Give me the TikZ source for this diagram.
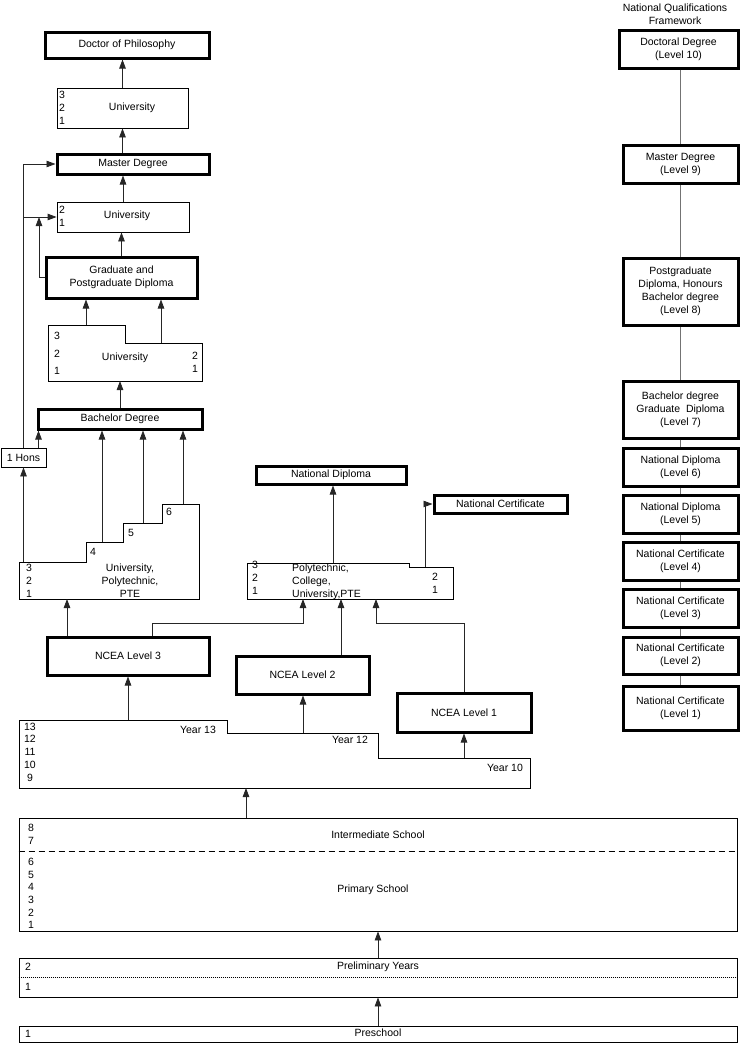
\documentclass[tikz,border=0pt]{standalone}
\usepackage{fontspec}
\setmainfont{Liberation Sans}
\usetikzlibrary{arrows.meta}
\begin{document}
\begin{tikzpicture}[x=1pt,y=-1pt,
  every node/.style={font=\fontsize{10.5}{13}\selectfont},
  thk/.style={draw, line width=3pt, inner sep=0pt, align=center},
  thn/.style={draw, line width=0.8pt, inner sep=0pt, align=center},
  txt/.style={inner sep=0pt, align=center},
  num/.style={inner sep=0pt, align=left},
  arr/.style={draw=black!85, line width=0.8pt, -{Triangle[length=9pt,width=6.5pt]}},
  ln/.style={draw=black!85, line width=0.8pt},
  gln/.style={draw=black!55, line width=0.9pt},
  outl/.style={draw, line width=0.8pt},
]
\useasboundingbox (0,0) rectangle (743,1044);

% ---------------- left column ----------------
\node[thk, minimum width=164pt, minimum height=26pt] (phd) at (127,45) {Doctor of Philosophy};
\node[thn, minimum width=131pt, minimum height=40pt] (uni3) at (122.5,108) {};
\node[txt] (uni3t) at (132,108) {University};
\node[num, anchor=west] (uni3n) at (59,107.5) {3\\2\\1};

\node[thk, minimum width=152pt, minimum height=20pt] (master) at (133,164) {Master Degree};
\node[thn, minimum width=132pt, minimum height=30pt] (uni2) at (123,217) {};
\node[txt] (uni2t) at (127,216) {University};
\node[num, anchor=west] (uni2n) at (59,216.5) {2\\1};

\node[thk, minimum width=151pt, minimum height=41pt] (grad) at (121.5,277.5) {Graduate and\\Postgraduate Diploma};

% stepped university box
\draw[outl] (48,325) -- (125,325) -- (125,343) -- (202,343) -- (202,381) -- (48,381) -- cycle;
\coordinate (usA) at (86,325);
\coordinate (usB) at (161,343);
\coordinate (usC) at (120,381);
\node[txt] (ust) at (125,358) {University};
\node[num, anchor=west] (usn) at (54,353.5) {3\\[4.5pt]2\\[4.5pt]1};
\node[num, anchor=west] (usr) at (192,362.5) {2\\1};

\node[thk, minimum width=164pt, minimum height=20pt] (bach) at (120,419) {Bachelor Degree};
\node[thn, minimum width=45pt, minimum height=19pt] (hons) at (23.5,457.5) {1 Hons};

% stairs box
\draw[outl] (19,562) -- (86,562) -- (86,542) -- (123,542) -- (123,523) -- (162,523) -- (162,504) -- (199,504) -- (199,599) -- (19,599) -- cycle;
\coordinate (st0) at (23.5,562);
\coordinate (sA) at (102,542);
\coordinate (sB) at (143,523);
\coordinate (sC) at (183,504);
\coordinate (stb) at (67,599);
\node[txt] (s4) at (93,552) {4};
\node[txt] (s5) at (131,533) {5};
\node[txt] (s6) at (169,512) {6};
\node[num, anchor=west] (stn) at (26,580.5) {3\\2\\1};
\node[txt] (stt) at (130,580.5) {University,\\Polytechnic,\\PTE};

% ---------------- middle ----------------
\node[thk, minimum width=150pt, minimum height=18pt] (natdip) at (331,475) {National Diploma};
\node[thk, minimum width=133pt, minimum height=18pt] (natcert) at (500.5,504) {National Certificate};
\draw[outl] (247,563) -- (409,563) -- (409,567) -- (453,567) -- (453,599) -- (247,599) -- cycle;
\coordinate (pD) at (333,563);
\coordinate (pE) at (425,567);
\coordinate (pA) at (303,599);
\coordinate (pB) at (341,599);
\coordinate (pC) at (376,599);
\node[num, anchor=west] (pn) at (252,577.5) {3\\2\\1};
\node[num, anchor=west] (pt) at (292,582) {Polytechnic,\\College,\\University,PTE};
\node[num, anchor=west] (pr) at (432,583) {2\\1};

% NCEA
\node[thk, minimum width=162pt, minimum height=38pt] (ncea3) at (128,656) {NCEA Level 3};
\node[thk, minimum width=133pt, minimum height=38pt] (ncea2) at (302.5,675) {NCEA Level 2};
\node[thk, minimum width=134pt, minimum height=39pt] (ncea1) at (464,712.5) {NCEA Level 1};
\coordinate (bus) at (0,623);

% secondary
\draw[outl] (19,720) -- (227,720) -- (227,733) -- (378,733) -- (378,758) -- (530,758) -- (530,788) -- (19,788) -- cycle;
\coordinate (sec1) at (128,720);
\coordinate (sec2) at (303,733);
\coordinate (sec3) at (464,758);
\coordinate (secb) at (246,788);
\node[txt] (secn) at (30,752) {13\\[-0.25pt]12\\[-0.25pt]11\\[-0.25pt]10\\[-0.25pt]9};
\node[txt] (y13) at (198,730) {Year 13};
\node[txt] (y12) at (350,740) {Year 12};
\node[txt] (y10) at (505,768) {Year 10};

% bottom boxes
\node[thn, minimum width=718pt, minimum height=113pt] (prim) at (378,874.5) {};
\draw[line width=0.8pt, dash pattern=on 6pt off 4pt] ([yshift=-34pt]prim.north west) -- ([yshift=-34pt]prim.north east);
\node[num, anchor=west] (pn1) at (28,834.5) {8\\7};
\node[txt] (ist) at (378,835) {Intermediate School};
\node[num, anchor=west, font=\fontsize{10.5}{12.6}\selectfont] (pn2) at (28,893.5) {6\\5\\4\\3\\2\\1};
\node[txt] (pst) at (373,890) {Primary School};

\node[thn, minimum width=718pt, minimum height=39pt] (prel) at (378,977.5) {};
\draw[line width=0.6pt, dash pattern=on 1pt off 1pt] (prel.west) -- (prel.east);
\node[num, anchor=west] (pl2) at (25,967) {2};
\node[num, anchor=west] (pl1) at (25,987) {1};
\node[txt] (plt) at (378,967) {Preliminary Years};

\node[thn, minimum width=718pt, minimum height=16pt] (pre) at (378,1034) {};
\node[num, anchor=west] (ps1) at (25,1034) {1};
\node[txt] (pst2) at (378,1033) {Preschool};

% ---------------- right column ----------------
\node[txt] (nqf) at (675,14.5) {National Qualifications\\Framework};
\node[thk, minimum width=119pt, minimum height=38pt] (r10) at (678.5,49) {Doctoral Degree\\(Level 10)};
\node[thk, minimum width=115pt, minimum height=38pt] (r9) at (680.5,164) {Master Degree\\(Level 9)};
\node[thk, minimum width=115pt, minimum height=67pt] (r8) at (680.5,291.5) {Postgraduate\\Diploma, Honours\\Bachelor degree\\(Level 8)};
\node[thk, minimum width=115pt, minimum height=57pt] (r7) at (680.5,409.5) {Bachelor degree\\Graduate~ Diploma\\(Level 7)};
\node[thk, minimum width=115pt, minimum height=38pt] (r6) at (680.5,467) {National Diploma\\(Level 6)};
\node[thk, minimum width=115pt, minimum height=38pt] (r5) at (680.5,514) {National Diploma\\(Level 5)};
\node[thk, minimum width=115pt, minimum height=38pt] (r4) at (680.5,561) {National Certificate\\(Level 4)};
\node[thk, minimum width=115pt, minimum height=38pt] (r3) at (680.5,608) {National Certificate\\(Level 3)};
\node[thk, minimum width=115pt, minimum height=37pt] (r2) at (680.5,655.5) {National Certificate\\(Level 2)};
\node[thk, minimum width=115pt, minimum height=44pt] (r1) at (680.5,708) {National Certificate\\(Level 1)};

\draw[gln] (r9.north |- r10.south) -- (r9.north);
\draw[gln] (r9.south) -- (r8.north);
\draw[gln] (r8.south) -- (r7.north);
\draw[gln] (r7.south) -- (r6.north);
\draw[gln] (r6.south) -- (r5.north);
\draw[gln] (r5.south) -- (r4.north);
\draw[gln] (r4.south) -- (r3.north);
\draw[gln] (r3.south) -- (r2.north);
\draw[gln] (r2.south) -- (r1.north);

% ---------------- connectors ----------------
\draw[arr] (uni3.north) -- (uni3.north |- phd.south);
\draw[arr] (uni3.south |- master.north) -- (uni3.south);
\draw[arr] (uni2.north) -- (uni2.north |- master.south);
\draw[arr] (grad.north) -- (grad.north |- uni2.south);
\draw[arr] (usA) -- (usA |- grad.south);
\draw[arr] (usB) -- (usB |- grad.south);
\draw[arr] (usC |- bach.north) -- (usC);
\draw[arr] ([xshift=15pt]hons.north) -- ([xshift=15pt]hons.north |- bach.south);
\draw[arr] (hons.north) -- (hons.north |- master.west) -- (master.west);
\draw[arr] (hons.north |- uni2.west) -- (uni2.west);
\coordinate (gup) at (39,217);
\draw[arr] (grad.west) -| (gup);
\draw[arr] (st0) -- (hons.south);
\draw[arr] (sA) -- (sA |- bach.south);
\draw[arr] (sB) -- (sB |- bach.south);
\draw[arr] (sC) -- (sC |- bach.south);
\draw[arr] (stb |- ncea3.north) -- (stb);
\draw[arr] ([xshift=24pt]ncea3.north) |- (bus -| pA) -- (pA);
\draw[arr] (pB |- ncea2.north) -- (pB);
\draw[arr] (ncea1.north) |- (bus -| pC) -- (pC);
\draw[arr] (pD) -- (pD |- natdip.south);
\draw[arr] (pE) |- (natcert.west);
\draw[arr] (sec1) -- (ncea3.south);
\draw[arr] (sec2) -- (sec2 |- ncea2.south);
\draw[arr] (sec3) -- (ncea1.south);
\draw[arr] (secb |- prim.north) -- (secb);
\draw[arr] (prel.north -| plt) -- (prim.south -| plt);
\draw[arr] (pre.north) -- (prel.south);
\end{tikzpicture}
\end{document}
